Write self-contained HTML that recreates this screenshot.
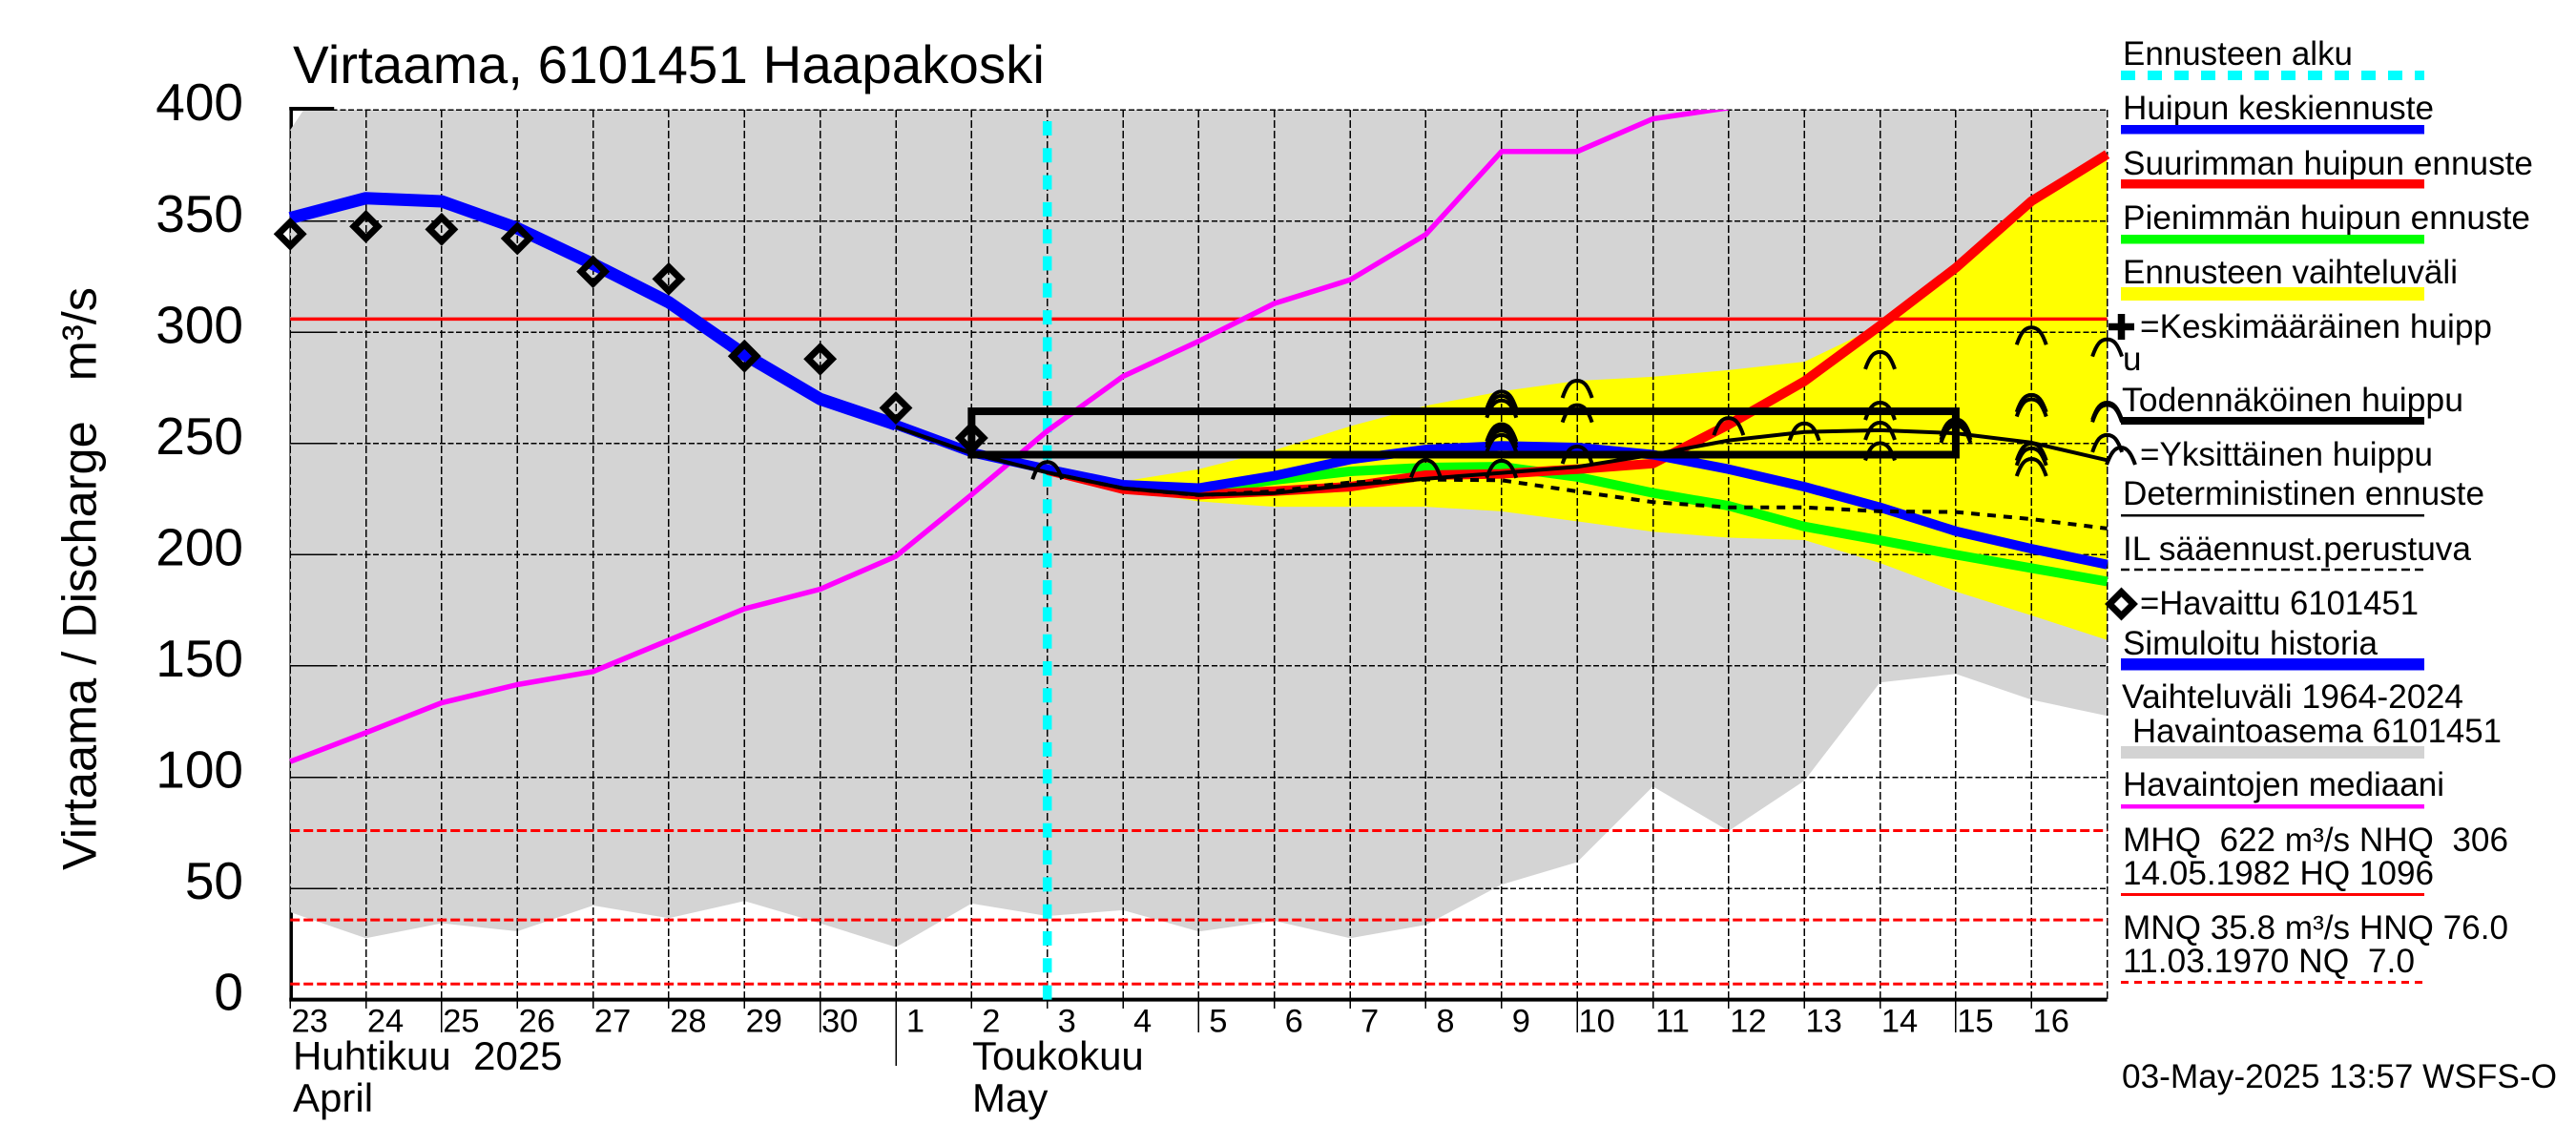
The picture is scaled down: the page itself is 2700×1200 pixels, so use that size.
<!DOCTYPE html>
<html lang="fi">
<head>
<meta charset="utf-8">
<title>Virtaama, 6101451 Haapakoski</title>
<style>
html,body{margin:0;padding:0;background:#fff;}
svg{display:block;}
text{font-family:"Liberation Sans",Arial,sans-serif;fill:#000;white-space:pre;}
.lg{font-size:35px;}
</style>
</head>
<body>
<svg id="chart" xmlns="http://www.w3.org/2000/svg" width="2700" height="1200" viewBox="0 0 2700 1200">
<defs><clipPath id="plot-clip"><rect x="300" y="115" width="1909" height="935"/></clipPath></defs>
<rect x="0" y="0" width="2700" height="1200" fill="#fff"/>
<g id="plot"></g>

<text x="307" y="87" font-size="56" textLength="788" lengthAdjust="spacingAndGlyphs">Virtaama, 6101451 Haapakoski</text>
<text transform="translate(100.5,912) rotate(-90)" font-size="50.5" textLength="611" lengthAdjust="spacingAndGlyphs">Virtaama / Discharge   m³/s</text>
<text x="307" y="1121" font-size="42">Huhtikuu  2025</text>
<text x="307" y="1165" font-size="42">April</text>
<text x="1019" y="1121" font-size="42">Toukokuu</text>
<text x="1019" y="1165" font-size="42">May</text>

<g>
<text class="lg" x="2225" y="68" textLength="241" lengthAdjust="spacingAndGlyphs">Ennusteen alku</text>
<line x1="2223" x2="2541" y1="79" y2="79" stroke="#00ffff" stroke-width="10" stroke-dasharray="15 13"/>
<text class="lg" x="2225" y="125" textLength="326" lengthAdjust="spacingAndGlyphs">Huipun keskiennuste</text>
<rect x="2223" y="131" width="318" height="9.5" fill="#0000ff"/>
<text class="lg" x="2225" y="183" textLength="430" lengthAdjust="spacingAndGlyphs">Suurimman huipun ennuste</text>
<rect x="2223" y="188" width="318" height="9.5" fill="#ff0000"/>
<text class="lg" x="2225" y="240" textLength="427" lengthAdjust="spacingAndGlyphs">Pienimmän huipun ennuste</text>
<rect x="2223" y="246" width="318" height="9.5" fill="#00ff00"/>
<text class="lg" x="2225" y="297" textLength="351" lengthAdjust="spacingAndGlyphs">Ennusteen vaihteluväli</text>
<rect x="2223" y="301" width="318" height="14" fill="#ffff00"/>
<path d="M2210,342.5H2237M2223.5,329V356" stroke="#000" stroke-width="7.5" fill="none"/>
<text class="lg" x="2243" y="354" textLength="369" lengthAdjust="spacingAndGlyphs">=Keskimääräinen huipp</text>
<text class="lg" x="2225" y="388">u</text>
<text class="lg" x="2224" y="431" textLength="358" lengthAdjust="spacingAndGlyphs">Todennäköinen huippu</text>
<rect x="2223" y="437" width="318" height="8" fill="#000"/>
<path d="M2208,487C2212,476 2216,469 2223,469C2230,469 2234,476 2238,487" stroke="#000" stroke-width="4" fill="none"/>
<text class="lg" x="2243" y="488" textLength="307" lengthAdjust="spacingAndGlyphs">=Yksittäinen huippu</text>
<text class="lg" x="2225" y="529" textLength="379" lengthAdjust="spacingAndGlyphs">Deterministinen ennuste</text>
<rect x="2223" y="539" width="318" height="2.5" fill="#000"/>
<text class="lg" x="2225" y="587" textLength="365" lengthAdjust="spacingAndGlyphs">IL sääennust.perustuva</text>
<line x1="2223" x2="2541" y1="597" y2="597" stroke="#000" stroke-width="2.5" stroke-dasharray="9 5"/>
<path d="M2223.5,620.5L2236,633L2223.5,645.5L2211,633Z" stroke="#000" stroke-width="7" fill="#fff" stroke-miterlimit="10"/>
<text class="lg" x="2243" y="644" textLength="292" lengthAdjust="spacingAndGlyphs">=Havaittu 6101451</text>
<text class="lg" x="2225" y="686" textLength="267" lengthAdjust="spacingAndGlyphs">Simuloitu historia</text>
<rect x="2223" y="690" width="318" height="12.5" fill="#0000ff"/>
<text class="lg" x="2224" y="742" textLength="358" lengthAdjust="spacingAndGlyphs">Vaihteluväli 1964-2024</text>
<text class="lg" x="2235" y="778" textLength="387" lengthAdjust="spacingAndGlyphs">Havaintoasema 6101451</text>
<rect x="2223" y="782" width="318" height="13" fill="#d3d3d3"/>
<text class="lg" x="2225" y="834" textLength="337" lengthAdjust="spacingAndGlyphs">Havaintojen mediaani</text>
<rect x="2223" y="843" width="318" height="4.5" fill="#ff00ff"/>
<text class="lg" x="2225" y="892" textLength="404" lengthAdjust="spacingAndGlyphs">MHQ  622 m³/s NHQ  306</text>
<text class="lg" x="2225" y="927" textLength="326" lengthAdjust="spacingAndGlyphs">14.05.1982 HQ 1096</text>
<rect x="2223" y="936" width="318" height="3" fill="#ff0000"/>
<text class="lg" x="2225" y="984" textLength="404" lengthAdjust="spacingAndGlyphs">MNQ 35.8 m³/s HNQ 76.0</text>
<text class="lg" x="2225" y="1019" textLength="306" lengthAdjust="spacingAndGlyphs">11.03.1970 NQ  7.0</text>
<line x1="2223" x2="2541" y1="1029.5" y2="1029.5" stroke="#ff0000" stroke-width="3" stroke-dasharray="8 6"/>
<text class="lg" x="2224" y="1140" textLength="456" lengthAdjust="spacingAndGlyphs">03-May-2025 13:57 WSFS-O</text>
</g>
</svg>

<script>
// ---- categories and tick labels ----
const dayLabels = ['23','24','25','26','27','28','29','30','1','2','3','4','5','6','7','8','9','10','11','12','13','14','15','16'];
const yTicks = [0,50,100,150,200,250,300,350,400];
const monthStartIndex = 8;
const forecastStartIndex = 10;
const peakMeanStartIndex = 8;
const rectStartIndex = 9;
const rectEndIndex = 22;

// ---- reference levels ----
const nhqLevel = 306;
const dashedLevels = [76, 35.8, 7];
const rectTop = 264.5;
const rectBottom = 245;

// ---- historical range (index 0..24) ----
const rangeLow = [39.3,27.6,34.3,30.7,42.3,36.6,44.3,34.3,23.6,43.2,37.6,40.2,30.6,35.4,27.6,33.6,51.7,61.8,95.8,75.8,98.4,142.6,146.4,134.8,127.6];
const rangeHigh = [391,442,450,450,450,450,450,450,450,450,450,450,450,450,450,450,450,450,450,450,450,450,450,450,450];

// ---- median (index 0..19) ----
const medianValues = [107,120,133.4,141.6,147.5,161.6,175.7,184.5,199.3,227,255.7,280.2,296,313,323.6,344,381.3,381.3,396,401];

// ---- simulated history (index 0..8) ----
const historyValues = [351.4,360.3,358.9,346.8,330.7,313.5,290,270,258.5];

// ---- forecast series ----
const peakMeanValues = [258.5,246,238.5,231.5,230,235.5,242.8,247.3,249,248.2,245,238.5,230.6,221.3,210.6,202.7,195.6];
const peakMaxValues = [238,229.5,227,228.6,230.6,235.8,236.4,238.5,241,258.5,278,303,329,359,380];
const peakMinValues = [238.5,231,229,233.6,237.5,239.2,239.6,235,227.8,222,212.7,206.5,200,194,188];
const rangeUpper = [239,233,238.5,247,257.8,267,273.5,278.2,280,283,286.8,303,329,359,380];
const rangeLower = [238,229,224,221.6,221.6,221.6,219.5,215,210.4,207.7,206.6,196.3,183.5,172.7,161.7];

// ---- deterministic runs (index 8..24) ----
const deterministicValues = [257.5,245.6,237,229.9,227,227.7,231.3,234.2,236.8,239.5,245,251.4,255.2,256,254.6,250.4,242.5];
const ilForecastValues = [257.5,245.6,237,229.9,226.8,228.5,232.5,233.8,233.5,228.5,223.7,221.3,221.3,219.5,219.2,216,211.8];

// ---- observations (index 0..9) ----
const observedValues = [344.2,347.6,346.3,342.2,327.3,324,289.3,288,266,252.5];

// ---- individual peaks ----
const peakDays = [10,15,16,16,16,16,16,16,16,16,17,17,17,19,20,21,21,21,21,22,22,22,23,23,23,23,23,23,24,24,24,24];
const peakValues = [237.8,238.6,269.5,267.6,265.5,254.8,253.4,252,250,238.4,274.4,263.4,244.8,257.6,255.2,287.3,264.5,255.5,246.3,257,255.5,254.2,298.3,268,266,246.2,244,239.2,293,264.5,263.5,250];

// ---- axis functions ----
const X0 = 304.2, DX = 79.35, Y0 = 1047.6, DY = 2.331;
function xAt(i){ return X0 + DX * i; }
function yAt(v){ return Y0 - DY * v; }

const NS = 'http://www.w3.org/2000/svg';
const plot = document.getElementById('plot');
function mk(tag, attrs){
  const el = document.createElementNS(NS, tag);
  for (const k in attrs) el.setAttribute(k, attrs[k]);
  plot.appendChild(el);
  return el;
}
function pathOf(vals, start){
  return vals.map((v,k) => (k ? 'L' : 'M') + xAt(start + k).toFixed(1) + ',' + yAt(v).toFixed(1)).join('');
}
const xEnd = xAt(dayLabels.length);

// left axis sits underneath the grey range
const leftAxis = mk('path', {d:'M'+(X0+1)+','+yAt(400)+'V'+Y0+'M'+(X0-1)+','+(yAt(400)-1.5)+'H'+(X0+46), stroke:'#000','stroke-width':3.5, fill:'none'});



// grey historical range
const lowPts = rangeLow.map((v,i) => xAt(i).toFixed(1)+','+yAt(v).toFixed(1));
const highPts = rangeHigh.map((v,i) => xAt(i).toFixed(1)+','+yAt(v).toFixed(1)).reverse();
const rangeArea = mk('polygon', {points: lowPts.concat(highPts).join(' '), fill:'#d4d4d4', 'clip-path':'url(#plot-clip)'});



// yellow forecast range
const upPts = rangeUpper.map((v,k) => xAt(forecastStartIndex+k).toFixed(1)+','+yAt(v).toFixed(1));
const dnPts = rangeLower.map((v,k) => xAt(forecastStartIndex+k).toFixed(1)+','+yAt(v).toFixed(1)).reverse();
const forecastArea = mk('polygon', {points: upPts.concat(dnPts).join(' '), fill:'#ffff00'});



// horizontal gridlines, ticks, labels
yTicks.forEach(v => {
  if (v > 0) {
    const g = mk('line', {x1:X0, x2:xEnd, y1:yAt(v), y2:yAt(v), stroke:'#000','stroke-width':1.5,'stroke-dasharray':'6 2.7','shape-rendering':'crispEdges'});
    
    
    const t = mk('line', {x1:X0, x2:X0+46, y1:yAt(v), y2:yAt(v), stroke:'#000','stroke-width':1.5,'shape-rendering':'crispEdges'});
    
    
  }
  const label = mk('text', {x:255, y:yAt(v)+11, 'font-size':55, 'text-anchor':'end'});
  
  
  label.textContent = String(v);
});

// vertical gridlines, ticks, day labels
dayLabels.forEach((d,i) => {
  const g = mk('line', {x1:xAt(i), x2:xAt(i), y1:yAt(400), y2:Y0, stroke:'#000','stroke-width':1.5,'stroke-dasharray':'8 3','shape-rendering':'crispEdges'});
  
  
  const bottom = i === monthStartIndex ? 1117 : (Number(d) % 5 === 0 ? 1082 : 1057);
  const t = mk('line', {x1:xAt(i), x2:xAt(i), y1:Y0, y2:bottom, stroke:'#000','stroke-width':1.5,'shape-rendering':'crispEdges'});
  
  
  const label = mk('text', {x:xAt(i)+20.5, y:1081.5, 'font-size':34.5, 'text-anchor':'middle'});
  
  
  label.textContent = d;
});
const rightEdge = mk('line', {x1:xEnd, x2:xEnd, y1:yAt(400), y2:Y0, stroke:'#000','stroke-width':1.5,'stroke-dasharray':'8 3','shape-rendering':'crispEdges'});


const topEdge = mk('line', {x1:X0, x2:xEnd, y1:yAt(400), y2:yAt(400), stroke:'#000','stroke-width':1.5,'stroke-dasharray':'6 2.7','shape-rendering':'crispEdges'});



// red reference lines
const nhqLine = mk('line', {x1:X0, x2:xEnd, y1:yAt(nhqLevel), y2:yAt(nhqLevel), stroke:'#ff0000','stroke-width':3.5});


dashedLevels.forEach(v => {
  const l = mk('line', {x1:X0, x2:xEnd, y1:yAt(v), y2:yAt(v), stroke:'#ff0000','stroke-width':3,'stroke-dasharray':'10 4'});
  
  
});

// bottom axis
const bottomAxis = mk('line', {x1:X0-1, x2:xEnd, y1:Y0, y2:Y0, stroke:'#000','stroke-width':4});



// forecast start marker
const startLine = mk('line', {x1:xAt(forecastStartIndex), x2:xAt(forecastStartIndex), y1:Y0, y2:yAt(397), stroke:'#00ffff','stroke-width':9.5,'stroke-dasharray':'15 13.3'});



function drawSeries(vals, start, color, width, name, dash, clip){
  const attrs = {d:pathOf(vals,start), fill:'none', stroke:color, 'stroke-width':width, 'stroke-linejoin':'round'};
  if (dash) attrs['stroke-dasharray'] = dash;
  if (clip) attrs['clip-path'] = 'url(#plot-clip)';
  const el = mk('path', attrs);
  
  
  return el;
}

drawSeries(medianValues, 0, '#ff00ff', 5.5, 'median-line', null, true);
drawSeries(historyValues, 0, '#0000ff', 13, 'simulated-history-line');
drawSeries(peakMinValues, forecastStartIndex, '#00ff00', 10, 'smallest-peak-line');
drawSeries(peakMaxValues, forecastStartIndex, '#ff0000', 10, 'largest-peak-line');
drawSeries(peakMeanValues, peakMeanStartIndex, '#0000ff', 10, 'peak-mean-line');

// probable-peak rectangle
const probable = mk('rect', {x:xAt(rectStartIndex), y:yAt(rectTop), width:xAt(rectEndIndex)-xAt(rectStartIndex), height:yAt(rectBottom)-yAt(rectTop), fill:'none', stroke:'#000','stroke-width':8});



drawSeries(ilForecastValues, 8, '#000', 4, 'il-forecast-line', '9 8');
drawSeries(deterministicValues, 8, '#000', 4, 'deterministic-line');

// observed diamonds
observedValues.forEach((v,i) => {
  const cx = xAt(i), cy = yAt(v), r = 12.5;
  const el = mk('path', {d:'M'+cx+','+(cy-r)+'L'+(cx+r)+','+cy+'L'+cx+','+(cy+r)+'L'+(cx-r)+','+cy+'Z', fill:'none', stroke:'#000','stroke-width':7,'stroke-miterlimit':10});
  
  
});

// individual peak arcs
peakValues.forEach((v,k) => {
  const cx = xAt(peakDays[k]), cy = yAt(v);
  const d = 'M'+(cx-15.5)+','+(cy+9)+'C'+(cx-11)+','+(cy-4)+' '+(cx-7)+','+(cy-9)+' '+cx+','+(cy-9)+'C'+(cx+7)+','+(cy-9)+' '+(cx+11)+','+(cy-4)+' '+(cx+15.5)+','+(cy+9);
  const el = mk('path', {d:d, fill:'none', stroke:'#000','stroke-width':4});
  
  
});
</script>
</body>
</html>
